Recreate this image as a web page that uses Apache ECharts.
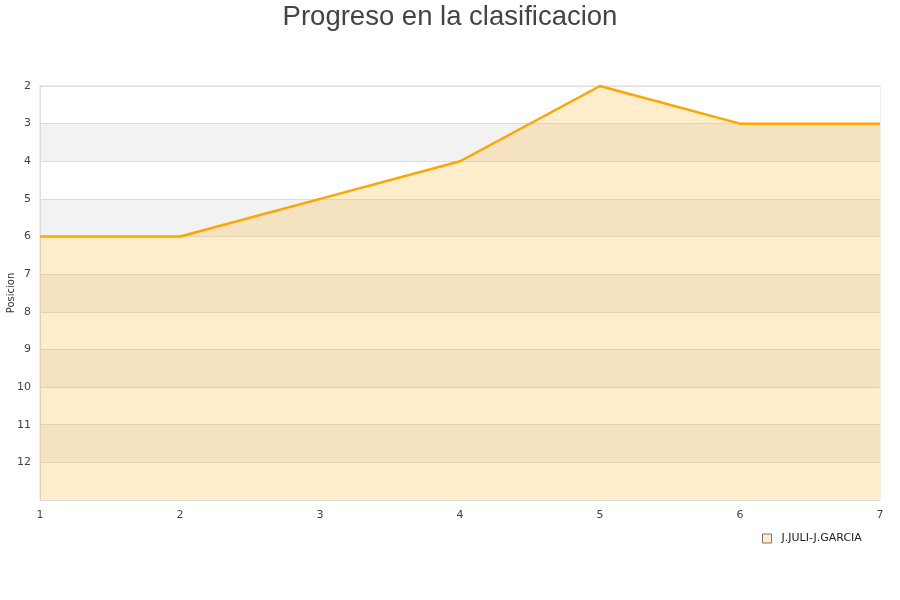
<!DOCTYPE html>
<html>
<head>
<meta charset="utf-8">
<script src="https://cdn.jsdelivr.net/npm/echarts@6/dist/echarts.min.js"></script>
<style>
  html, body { margin: 0; padding: 0; background: #fff; }
  #chart { width: 900px; height: 600px; }
</style>
</head>
<body>
<div id="chart"></div>
<script>
// jornadas y posiciones
const jornadas = [1, 2, 3, 4, 5, 6, 7];
const posiciones = [6, 6, 5, 4, 2, 3, 3];
const equipo = 'J.JULI-J.GARCIA';

const seriesData = jornadas.map((j, i) => [j, posiciones[i]]);

let myChart = echarts.init(document.getElementById('chart'));
myChart.setOption({
    animation: false,
    backgroundColor: '#fff',
    title: {
        text: 'Progreso en la clasificacion',
        left: 'center',
        top: -2,
        textStyle: { fontFamily: 'Liberation Sans', fontSize: 27.5, fontWeight: 'normal', color: '#444' }
    },
    legend: {
        data: [equipo],
        left: 757,
        top: 528,
        itemWidth: 9,
        itemHeight: 9,
        icon: 'rect',
        itemStyle: { color: '#ffedcc', borderColor: '#777', borderWidth: 1 },
        textStyle: { fontFamily: 'DejaVu Sans', fontSize: 11, color: '#222', padding: [0, 0, 0, 5] }
    },
    grid: {
        left: 40, right: 20, top: 86, bottom: 100,
        containLabel: false,
        outerBoundsMode: 'none',
        show: true, borderColor: '#ddd', borderWidth: 1, backgroundColor: 'transparent'
    },
    xAxis: {
        type: 'value',
        min: 1, max: 7, interval: 1,
        axisLine: { show: true, lineStyle: { color: '#ddd' } },
        axisTick: { show: false },
        splitLine: { show: false },
        axisLabel: { fontFamily: 'DejaVu Sans', fontSize: 11, color: '#444', margin: 10 }
    },
    yAxis: {
        type: 'value',
        inverse: true,
        min: 2, max: 13, interval: 1,
        name: 'Posicion',
        nameLocation: 'middle',
        nameGap: 24,
        nameMoveOverlap: false,
        nameTextStyle: { fontFamily: 'DejaVu Sans', fontSize: 10, color: '#333' },
        axisLine: { show: true, lineStyle: { color: '#ddd' } },
        axisTick: { show: false },
        axisLabel: {
            fontFamily: 'DejaVu Sans', fontSize: 11, color: '#444', margin: 9,
            showMaxLabel: false, verticalAlign: 'middle',
            formatter: v => (v >= 13 ? '' : String(v))
        },
        splitLine: { show: true, lineStyle: { color: '#ddd', width: 1 } },
        splitArea: { show: true, areaStyle: { color: ['#ffffff', '#f2f2f2'], opacity: 1 } }
    },
    series: [{
        name: equipo,
        type: 'line',
        data: seriesData,
        symbol: 'none',
        lineStyle: { color: '#ffa500', width: 2.5 },
        itemStyle: { color: '#ffedcc' },
        areaStyle: { color: 'rgba(255,165,0,0.2)', opacity: 1, origin: 'end' }
    }]
});
window.addEventListener('resize', () => {
    myChart.resize();
});
</script>
</body>
</html>
